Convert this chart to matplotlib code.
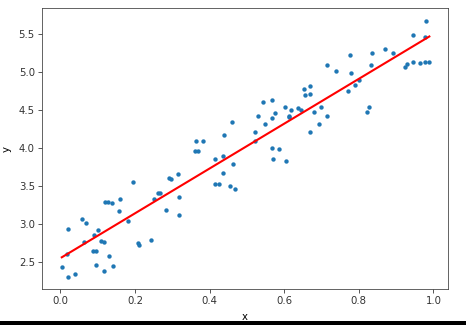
import numpy as np
import matplotlib
matplotlib.use("Agg")
import matplotlib.pyplot as plt
from matplotlib.patches import Rectangle

x_vals = [0.004, 0.020, 0.017, 0.020, 0.039, 0.059, 0.070, 0.064, 0.088, 0.097,
          0.091, 0.100, 0.097, 0.108, 0.118, 0.119, 0.129, 0.139, 0.131, 0.118,
          0.142, 0.160, 0.157, 0.181, 0.195, 0.207, 0.210, 0.243, 0.251, 0.263,
          0.268, 0.283, 0.290, 0.298, 0.316, 0.318, 0.318, 0.415, 0.425, 0.437,
          0.456, 0.468, 0.464, 0.364, 0.382, 0.360, 0.369, 0.461, 0.439, 0.415,
          0.437, 0.523, 0.523, 0.529, 0.544, 0.549, 0.567, 0.576, 0.568, 0.568,
          0.586, 0.570, 0.604, 0.602, 0.617, 0.614, 0.612, 0.638, 0.645, 0.652,
          0.656, 0.668, 0.669, 0.668, 0.679, 0.692, 0.699, 0.716, 0.716, 0.740,
          0.777, 0.779, 0.772, 0.790, 0.800, 0.821, 0.828, 0.832, 0.836, 0.870,
          0.891, 0.924, 0.929, 0.945, 0.944, 0.964, 0.977, 0.989, 0.980, 0.977]
y_vals = [2.44, 2.94, 2.61, 2.31, 2.34, 3.07, 3.02, 2.77, 2.65, 2.65,
          2.86, 2.92, 2.46, 2.78, 2.77, 3.29, 3.30, 3.28, 2.58, 2.38,
          2.45, 3.33, 3.17, 3.04, 3.56, 2.75, 2.73, 2.80, 3.33, 3.41,
          3.41, 3.19, 3.61, 3.59, 3.66, 3.36, 3.12, 3.53, 3.53, 3.68,
          3.51, 3.46, 3.80, 4.10, 4.10, 3.97, 3.96, 4.34, 4.18, 3.86,
          3.90, 4.22, 4.10, 4.43, 4.61, 4.32, 4.64, 4.46, 4.40, 4.00,
          3.99, 3.86, 3.83, 4.54, 4.50, 4.43, 4.41, 4.53, 4.51, 4.78,
          4.70, 4.82, 4.72, 4.21, 4.48, 4.32, 4.54, 4.42, 5.10, 5.02,
          5.23, 4.99, 4.76, 4.83, 4.90, 4.48, 4.55, 5.09, 5.25, 5.31,
          5.26, 5.07, 5.11, 5.14, 5.49, 5.12, 5.14, 5.14, 5.67, 5.47]
x_ticks = [0.0, 0.2, 0.4, 0.6, 0.8, 1.0]
y_ticks = [2.5, 3.0, 3.5, 4.0, 4.5, 5.0, 5.5]

x = np.array(x_vals)
y = np.array(y_vals)
slope, intercept = np.polyfit(x, y, 1)
order = np.argsort(x)

s = 0.728
plt.rcParams.update({
    "font.size": 10 * s,
    "axes.linewidth": 0.8 * s,
    "xtick.major.size": 3.5 * s,
    "ytick.major.size": 3.5 * s,
    "xtick.major.width": 0.8 * s,
    "ytick.major.width": 0.8 * s,
    "xtick.major.pad": 3.5 * s,
    "ytick.major.pad": 3.5 * s,
})

W, H = 466, 325
fig = plt.figure(figsize=(W / 100, H / 100), dpi=100)
ax = fig.add_axes([42 / W, 1 - 289 / H, (448 - 42) / W, (289 - 8) / H])
ax.scatter(x, y, s=10, color="#1f77b4", linewidths=0)
ax.plot(x[order], slope * x[order] + intercept, color="red", linewidth=1.5)
ax.set_xlim(-0.049, 1.039)
ax.set_ylim(2.149, 5.846)
ax.set_xticks(x_ticks)
ax.set_yticks(y_ticks)
ax.set_xlabel("x", labelpad=4.5)
ax.set_ylabel("y", labelpad=5)
for sp in ax.spines.values():
    sp.set_color("#444444")
ax.tick_params(colors="#333333")

fig.patches.append(Rectangle((0, 0), 1, 4 / H, transform=fig.transFigure,
                             facecolor="black", edgecolor="none"))
fig.savefig("out.png", dpi=100)
